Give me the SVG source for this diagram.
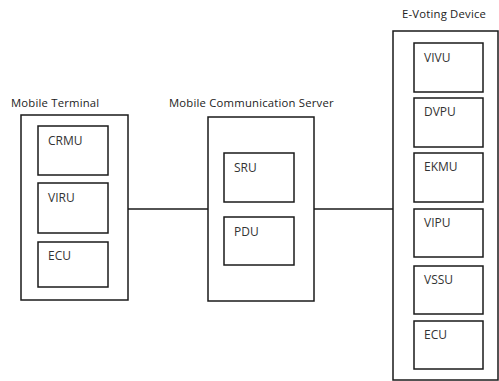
<svg xmlns="http://www.w3.org/2000/svg" width="499" height="381" viewBox="0 0 499 381">
<style>
.outer{fill:#fff;stroke:#1a1a1a;stroke-width:1.5}
.box{fill:#fff;stroke:#1a1a1a;stroke-width:1.5}
.ttl{font-family:"Open Sans","Noto Sans",sans-serif;font-size:11.3px;letter-spacing:0.2px;fill:#222}
.lbl{font-family:"Open Sans","Noto Sans",sans-serif;font-size:12px;fill:#333}
.con{stroke:#1a1a1a;stroke-width:1.5;fill:none}
</style>
<rect width="499" height="381" fill="#fff"/>
<g id="connectors">
<line class="con" x1="128" y1="209" x2="208" y2="209"/>
<line class="con" x1="314" y1="209" x2="393" y2="209"/>
<line class="con" x1="74" y1="175" x2="74" y2="183"/>
<line class="con" x1="74" y1="233" x2="74" y2="242"/>
<line class="con" x1="259" y1="202" x2="259" y2="217"/>
<line class="con" x1="451" y1="92" x2="451" y2="98"/>
<line class="con" x1="451" y1="147" x2="451" y2="153"/>
<line class="con" x1="451" y1="202" x2="451" y2="209"/>
<line class="con" x1="451" y1="257" x2="451" y2="266"/>
<line class="con" x1="451" y1="314" x2="451" y2="321"/>
</g>
<g id="mobile-terminal">
<text class="ttl" x="11" y="107">Mobile Terminal</text>
<rect class="outer" x="21" y="115" width="107" height="185"/>
<g id="crmu"><rect class="box" x="38" y="126" width="70" height="49"/><text class="lbl" x="48" y="145">CRMU</text></g>
<g id="viru"><rect class="box" x="38" y="183" width="70" height="50"/><text class="lbl" x="48" y="202">VIRU</text></g>
<g id="ecu1"><rect class="box" x="38" y="242" width="70" height="45"/><text class="lbl" x="48" y="260">ECU</text></g>
</g>
<g id="server">
<text class="ttl" x="169" y="107">Mobile Communication Server</text>
<rect class="outer" x="208" y="117" width="106" height="184"/>
<g id="sru"><rect class="box" x="224" y="153" width="70" height="49"/><text class="lbl" x="234" y="172">SRU</text></g>
<g id="pdu"><rect class="box" x="224" y="217" width="70" height="48"/><text class="lbl" x="234" y="236">PDU</text></g>
</g>
<g id="e-voting-device">
<text class="ttl" x="402" y="18">E-Voting Device</text>
<rect class="outer" x="393" y="31" width="105" height="349"/>
<g id="vivu"><rect class="box" x="414" y="43" width="69" height="49"/><text class="lbl" x="424" y="62">VIVU</text></g>
<g id="dvpu"><rect class="box" x="414" y="98" width="69" height="49"/><text class="lbl" x="424" y="116">DVPU</text></g>
<g id="ekmu"><rect class="box" x="414" y="153" width="69" height="49"/><text class="lbl" x="424" y="171">EKMU</text></g>
<g id="vipu"><rect class="box" x="414" y="209" width="69" height="48"/><text class="lbl" x="424" y="227">VIPU</text></g>
<g id="vssu"><rect class="box" x="414" y="266" width="69" height="48"/><text class="lbl" x="424" y="284">VSSU</text></g>
<g id="ecu2"><rect class="box" x="414" y="321" width="69" height="48"/><text class="lbl" x="424" y="339">ECU</text></g>
</g>
</svg>
